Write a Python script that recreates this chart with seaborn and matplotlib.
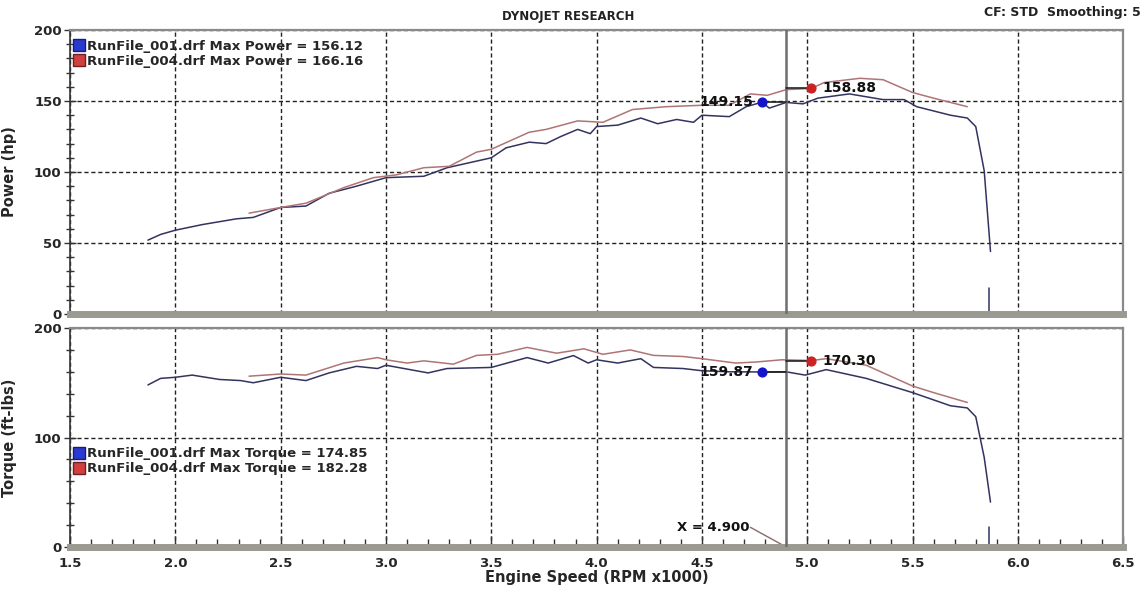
import numpy as np
import pandas as pd
import matplotlib
matplotlib.use('Agg')
import matplotlib.pyplot as plt
from matplotlib.lines import Line2D
import seaborn as sns

sns.set_theme(style='white')
plt.rcParams['font.family'] = ['DejaVu Sans']
plt.rcParams['font.weight'] = 'bold'

# --- data (rpm x1000) ---
run1_power_rpm = [1.87, 1.93, 2.00, 2.13, 2.29, 2.37, 2.50, 2.62, 2.73, 2.86, 3.00, 3.18, 3.29,
                  3.50, 3.57, 3.68, 3.76, 3.83, 3.91, 3.97, 4.00, 4.10, 4.21, 4.29, 4.38, 4.46,
                  4.50, 4.63, 4.71, 4.785, 4.82, 4.90, 4.98, 5.05, 5.20, 5.28, 5.36, 5.46, 5.52,
                  5.68, 5.76, 5.80, 5.84, 5.87]
run1_power_hp = [52, 56, 59, 63, 67, 68, 75, 76, 85, 90, 96, 97, 103,
                 110, 117, 121, 120, 125, 130, 127, 132, 133, 138, 134, 137, 135,
                 140, 139, 146, 149.15, 145, 149, 148, 152, 155, 153, 151, 151, 146,
                 140, 138, 132, 101, 44]
run4_power_rpm = [2.35, 2.50, 2.62, 2.80, 2.94, 3.05, 3.18, 3.30, 3.43, 3.50, 3.68, 3.76, 3.91,
                  4.03, 4.17, 4.33, 4.50, 4.63, 4.73, 4.81, 4.90, 5.02, 5.08, 5.25, 5.36, 5.50,
                  5.60, 5.76]
run4_power_hp = [71, 75, 78, 89, 96, 98, 103, 104, 114, 116, 128, 130, 136,
                 135, 144, 146, 147, 147, 155, 154, 158, 158.88, 163, 166, 165, 156,
                 152, 146]

run1_torque_rpm = [1.87, 1.93, 2.00, 2.08, 2.21, 2.31, 2.37, 2.50, 2.62, 2.73, 2.86, 2.96, 3.00,
                   3.20, 3.29, 3.50, 3.67, 3.77, 3.89, 3.96, 4.00, 4.10, 4.21, 4.27, 4.41, 4.50,
                   4.63, 4.785, 4.90, 4.99, 5.09, 5.28, 5.50, 5.68, 5.76, 5.80, 5.84, 5.87]
run1_torque_ftlb = [148, 154, 155, 157, 153, 152, 150, 155, 152, 159, 165, 163, 166,
                    159, 163, 164, 173, 168, 174.85, 168, 171, 168, 172, 164, 163, 161,
                    160, 159.87, 160, 157, 162, 154, 141, 129, 127, 119, 82, 41]
run4_torque_rpm = [2.35, 2.50, 2.62, 2.80, 2.96, 3.00, 3.10, 3.18, 3.32, 3.43, 3.53, 3.67, 3.81,
                   3.94, 4.03, 4.16, 4.27, 4.41, 4.50, 4.66, 4.76, 4.88, 5.02, 5.09, 5.28, 5.50,
                   5.60, 5.76]
run4_torque_ftlb = [156, 158, 157, 168, 173, 171, 168, 170, 167, 175, 176, 182.28, 177,
                    181, 176, 180, 175, 174, 172, 168, 169, 171, 170.30, 172, 166, 147,
                    141, 132]

# short stray trace left at the very end of run 1
tail_rpm = [5.865, 5.865]
tail_power_hp = [18, 1]
tail_torque_ftlb = [18, 2]

cursor_rpm = 4.9
pts_power = {'run1': (4.785, 149.15), 'run4': (5.02, 158.88)}
pts_torque = {'run1': (4.785, 159.87), 'run4': (5.02, 170.30)}

BLUE_LINE = '#33335f'
RED_LINE = '#b07474'
BLUE_DOT = '#1515c8'
RED_DOT = '#cc2222'

power_df = pd.concat([
    pd.DataFrame({'rpm': run1_power_rpm, 'val': run1_power_hp, 'run': 'run1'}),
    pd.DataFrame({'rpm': run4_power_rpm, 'val': run4_power_hp, 'run': 'run4'}),
])
torque_df = pd.concat([
    pd.DataFrame({'rpm': run1_torque_rpm, 'val': run1_torque_ftlb, 'run': 'run1'}),
    pd.DataFrame({'rpm': run4_torque_rpm, 'val': run4_torque_ftlb, 'run': 'run4'}),
])
palette = {'run1': BLUE_LINE, 'run4': RED_LINE}

fig = plt.figure(figsize=(11.46, 5.89), dpi=100)
ax1 = fig.add_axes([0.0611, 0.467, 0.919, 0.482])
ax2 = fig.add_axes([0.0611, 0.0713, 0.919, 0.3718])

grid_kw = dict(color='#222222', linestyle=(0, (3, 2)), linewidth=1.0)


def style_panel(ax, ymax, ymajor, yminor):
    ax.set_xlim(1.5, 6.5)
    ax.set_ylim(0, ymax)
    ax.set_xticks(np.arange(1.5, 6.51, 0.5))
    ax.set_xticks(np.arange(1.5, 6.51, 0.1), minor=True)
    ax.set_yticks(np.arange(0, ymax + 1, ymajor))
    ax.set_yticks(np.arange(0, ymax + 1, yminor), minor=True)
    ax.grid(True, which='major', **grid_kw)
    for s in ['top', 'right', 'left']:
        ax.spines[s].set_color('#8a8a8a')
        ax.spines[s].set_linewidth(1.6)
    ax.spines['left'].set_color('#333333')
    ax.spines['left'].set_linewidth(1.2)
    ax.spines['bottom'].set_color('#9a9a92')
    ax.spines['bottom'].set_linewidth(5)
    ax.tick_params(axis='y', which='both', direction='inout', left=True, length=8, width=1,
                   color='#333333', labelsize=9.5, pad=2)
    ax.tick_params(axis='y', which='minor', length=6)
    for lab in ax.get_yticklabels():
        lab.set_fontweight('bold')


sns.lineplot(data=power_df, x='rpm', y='val', hue='run', palette=palette, estimator=None,
             sort=False, linewidth=1.1, legend=False, ax=ax1)
sns.lineplot(x=tail_rpm, y=tail_power_hp, color=BLUE_LINE, estimator=None, sort=False,
             linewidth=1.1, ax=ax1)
sns.lineplot(data=torque_df, x='rpm', y='val', hue='run', palette=palette, estimator=None,
             sort=False, linewidth=1.1, legend=False, ax=ax2)
sns.lineplot(x=tail_rpm, y=tail_torque_ftlb, color=BLUE_LINE, estimator=None, sort=False,
             linewidth=1.1, ax=ax2)

style_panel(ax1, 200, 50, 10)
style_panel(ax2, 200, 100, 20)
ax1.tick_params(axis='x', which='both', length=0, labelbottom=False)
ax2.tick_params(axis='x', which='both', direction='in', bottom=True, length=6, width=1,
                color='#333333', labelsize=9.5, pad=7)
ax2.tick_params(axis='x', which='major', length=8)
for lab in ax2.get_xticklabels():
    lab.set_fontweight('bold')

ax1.set_xlabel('')
ax1.set_ylabel('Power (hp)', fontsize=10.5, fontweight='bold')
ax2.set_ylabel('Torque (ft-lbs)', fontsize=10.5, fontweight='bold')
ax1.yaxis.set_label_coords(-0.05, 0.5)
ax2.yaxis.set_label_coords(-0.05, 0.5)
ax2.set_xlabel('Engine Speed (RPM x1000)', fontsize=10.5, fontweight='bold', labelpad=0)

# cursor line and the cursor readouts
for ax, pts in [(ax1, pts_power), (ax2, pts_torque)]:
    ax.axvline(cursor_rpm, color='#6e6e6e', linewidth=1.8, zorder=3)
    bx, by = pts['run1']
    rx, ry = pts['run4']
    ax.plot([bx, cursor_rpm], [by, by], color='#222222', linewidth=1.2, zorder=4)
    ax.plot([cursor_rpm, rx], [ry, ry], color='#222222', linewidth=1.2, zorder=4)
    ax.scatter([bx], [by], s=40, color=BLUE_DOT, zorder=5)
    ax.scatter([rx], [ry], s=40, color=RED_DOT, zorder=5)
    ax.text(bx - 0.04, by, f'{by:.2f}', ha='right', va='center', fontsize=10,
            fontweight='bold', color='#111111', zorder=6)
    ax.text(rx + 0.05, ry, f'{ry:.2f}', ha='left', va='center', fontsize=10,
            fontweight='bold', color='#111111', zorder=6)

ax2.text(4.38, 18, 'X = 4.900', ha='left', va='center', fontsize=9.5, fontweight='bold',
         color='#111111')
ax2.plot([4.73, cursor_rpm], [18, 0], color='#8a6a6a', linewidth=1.0)

# legends
def legend_handles(label, v1, v4):
    return [Line2D([0], [0], marker='s', linestyle='none', markersize=9,
                   markerfacecolor='#2a3ad0', markeredgecolor='#1a1a70',
                   label=f'RunFile_001.drf Max {label} = {v1:.2f}'),
            Line2D([0], [0], marker='s', linestyle='none', markersize=9,
                   markerfacecolor='#d04040', markeredgecolor='#702020',
                   label=f'RunFile_004.drf Max {label} = {v4:.2f}')]


leg_kw = dict(loc='upper left', frameon=False, handlelength=0.7, handletextpad=0.3,
              labelspacing=0.15, borderpad=0, borderaxespad=0,
              prop={'weight': 'bold', 'size': 9.5})
ax1.legend(handles=legend_handles('Power', 156.12, 166.16), bbox_to_anchor=(0.004, 0.965),
           **leg_kw)
ax2.legend(handles=legend_handles('Torque', 174.85, 182.28), bbox_to_anchor=(0.004, 0.455),
           **leg_kw)

fig.text(0.496, 0.972, 'DYNOJET RESEARCH', ha='center', va='center', fontsize=8.5,
         fontweight='bold', color='#222222')
fig.text(0.995, 0.978, 'CF: STD  Smoothing: 5', ha='right', va='center', fontsize=9,
         fontweight='bold', color='#222222')

fig.savefig('out.png', dpi=100, facecolor='white')
